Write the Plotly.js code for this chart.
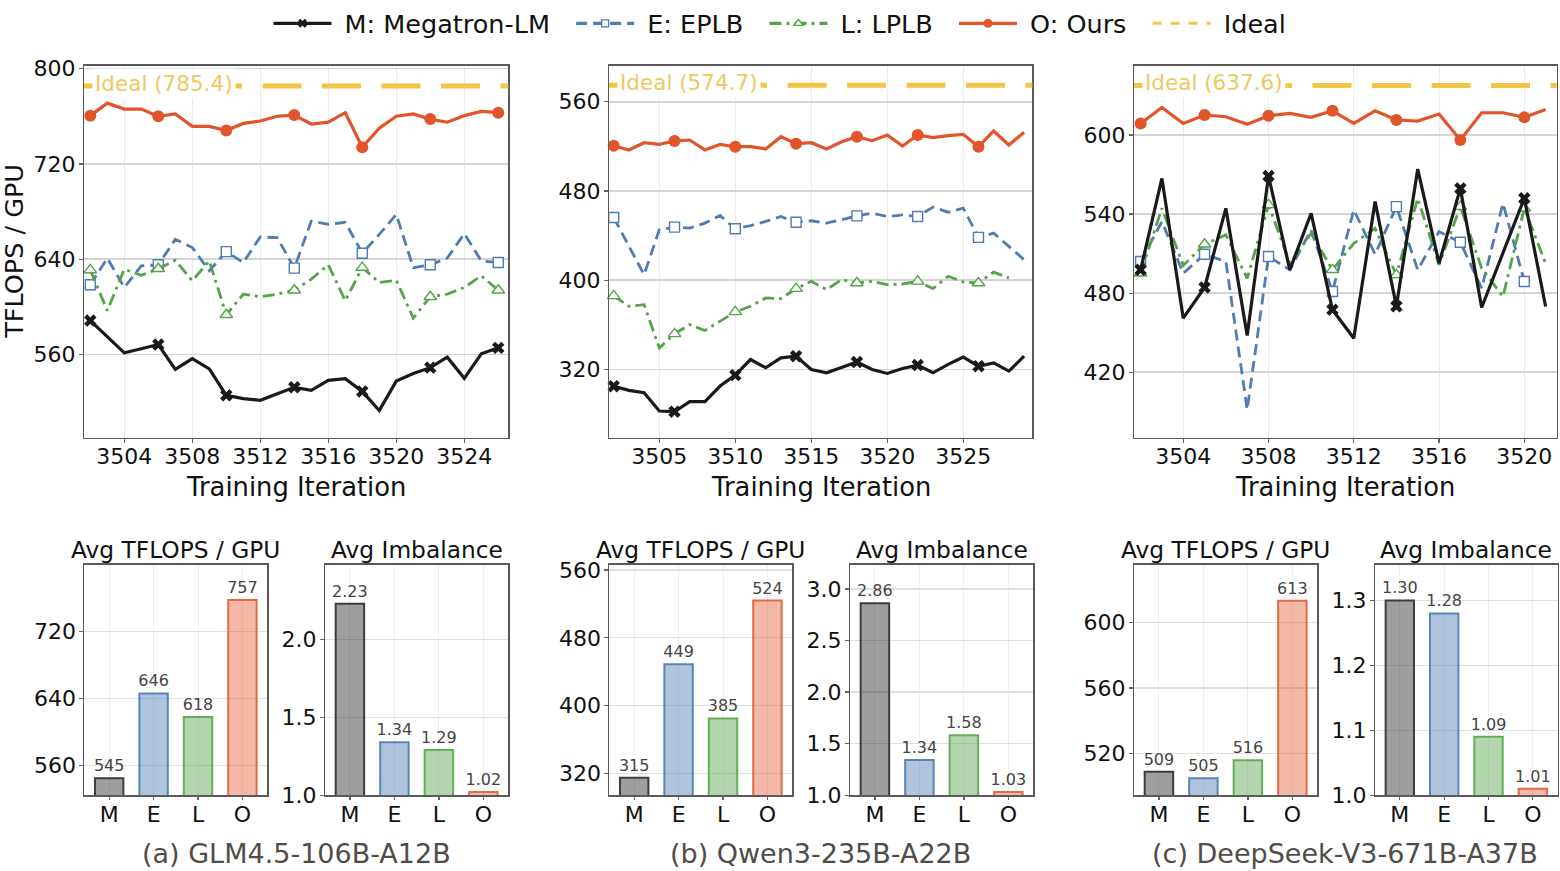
<!DOCTYPE html>
<html>
<head>
<meta charset="utf-8">
<script src="https://cdn.plot.ly/plotly-3.0.1.min.js"></script>
<style>html,body{margin:0;padding:0;background:#fff;}#chart{width:1560px;height:871px;}</style>
</head>
<body>
<div id="chart"></div>
<script>
// ---------------- DATA ----------------
const seriesNames = ['M: Megatron-LM', 'E: EPLB', 'L: LPLB', 'O: Ours', 'Ideal'];

// (a) GLM4.5-106B-A12B
const iterA = [3502,3503,3504,3505,3506,3507,3508,3509,3510,3511,3512,3513,3514,3515,3516,3517,3518,3519,3520,3521,3522,3523,3524,3525,3526];
const megA  = [588.5,575,561.4,564.8,568.4,547.5,556.5,548,525.8,523,521.6,527,532.5,530,538.3,539.7,529,513,537.7,544,549,557.8,540,560.6,565.6];
const eplbA = [618.6,640.9,616.3,634.5,635.3,656.7,649.8,630.3,646.4,637.2,658.7,658.1,632.5,672,669.3,671,645,660.8,677.6,633,635.3,640.9,661.5,638.6,637.2];
const lplbA = [631,596.8,631.6,626.5,632,639.2,621.9,638.6,593.4,610.7,608.5,610.7,614,623.3,635.3,605.2,633,620.5,622.4,590.6,608.5,610.7,616.3,626.1,614];
const oursA = [760.5,771,766,766,760,762,751.5,751.5,748,754,756,760,761,753.5,755,763,734,750,760,762,757.6,755,760.5,764,763];
const idealA = 785.4;

// (b) Qwen3-235B-A22B
const iterB = [3502,3503,3504,3505,3506,3507,3508,3509,3510,3511,3512,3513,3514,3515,3516,3517,3518,3519,3520,3521,3522,3523,3524,3525,3526,3527,3528,3529];
const megB  = [305,301.2,299.1,282.7,282.1,291.1,291.1,305.1,314.9,328.9,321.5,330.4,331.9,320,317,321.5,326.6,320,316.4,320.9,323.9,317,324.5,331,322.9,325.9,318.5,331.9];
const eplbB = [456.2,430.3,405,445.2,447.6,446.7,451.2,458,446.1,449,452.7,457.1,452,453.3,451.2,454.2,457.7,460.1,457.1,458.6,457.1,465.5,461,464.6,438.4,442.2,430.3,418.4];
const lplbB = [386,376.6,378.1,339.3,351.9,360.2,354.9,363.2,371.6,376.6,384.1,383.5,392.5,399,391.6,400.5,397.5,399,396,396.6,399,392.5,403.5,398.4,397.5,407.3,402];
const oursB = [520.6,516.8,523.3,521.8,524.8,525.7,516.8,521.8,519.7,519.7,517.7,528.7,522.4,523.3,517.7,524.2,528.7,525.1,530.2,520.4,530.2,527.8,529.6,530.8,519.7,533.8,521.2,532.6];
const idealB = 574.7;

// (c) DeepSeek-V3-671B-A37B
const iterC = [3502,3503,3504,3505,3506,3507,3508,3509,3510,3511,3512,3513,3514,3515,3516,3517,3518,3519,3520,3521];
const megC  = [497.7,567.1,461,484.3,544.4,447.9,568.9,497.7,540.6,467.4,445.8,549.5,470,574.2,502.7,559.5,469.1,510.3,552,469.9];
const eplbC = [504,534.3,495.1,509.5,504,391.6,507.8,497.7,528,481.2,543.2,509.5,545.7,497.7,526.7,518.6,483.7,548.2,488.8];
const lplbC = [495.1,544.4,501,517.1,524.2,491.3,547,502.7,525.4,497.7,517.8,529.2,493.9,552,501.5,545.7,498.9,477.4,544.4,502.7];
const oursC = [608.8,620.9,608.8,615.2,613.9,608.1,614.6,616.4,613.4,618.4,608.8,618.4,611.4,610.6,615.9,596.2,616.9,616.9,613.4,619.4];
const idealC = 637.6;

// Bar summaries
const barCats = ['M', 'E', 'L', 'O'];
const tflopsA = [545, 646, 618, 757];
const imbA    = [2.23, 1.34, 1.29, 1.02];
const tflopsB = [315, 449, 385, 524];
const imbB    = [2.86, 1.34, 1.58, 1.03];
const tflopsC = [509, 505, 516, 613];
const imbC    = [1.30, 1.28, 1.09, 1.01];

const captions = ['(a) GLM4.5-106B-A12B', '(b) Qwen3-235B-A22B', '(c) DeepSeek-V3-671B-A37B'];

// ---------------- STYLE ----------------
const W = 1560, H = 871;
const FONT = 'DejaVu Sans, Liberation Sans, sans-serif';
const COL = {M:'#1a1a1a', E:'#4f7db3', L:'#56a34b', O:'#e2552a', I:'#f2c545'};
const STY = {
  M: {line:{color:COL.M, width:3.2}, marker:{symbol:'x', size:11, color:COL.M, line:{width:0}}},
  E: {line:{color:COL.E, width:2.8, dash:'11px,6px'}, marker:{symbol:'square', size:10, color:'white', line:{color:COL.E, width:1.4}}},
  L: {line:{color:COL.L, width:2.8, dash:'12px,5px,3px,5px'}, marker:{symbol:'triangle-up', size:11, color:'white', line:{color:COL.L, width:1.4}}},
  O: {line:{color:COL.O, width:3.2}, marker:{symbol:'circle', size:12, color:COL.O, line:{width:0}}}
};
const barFill = ['rgba(40,40,40,0.45)', 'rgba(79,125,179,0.45)', 'rgba(86,163,75,0.45)', 'rgba(226,85,42,0.42)'];
const barEdge = ['#3d3d3d', '#5a84b8', '#65ad5b', '#e46a48'];

const dx = (a, b) => [a / W, b / W];
const dy = (top, bottom) => [1 - bottom / H, 1 - top / H];
const NB = '\u00a0';

const traces = [];

function seriesTrace(xs, ys, key, xa, ya, every) {
  const s = STY[key];
  const sizes = ys.map((_, i) => (i % every === 0 ? s.marker.size : 0));
  const ops = ys.map((_, i) => (i % every === 0 ? 1 : 0));
  return {
    type: 'scatter', mode: 'lines+markers', x: xs, y: ys, xaxis: xa, yaxis: ya,
    showlegend: false, hoverinfo: 'skip', cliponaxis: false,
    line: Object.assign({}, s.line),
    marker: Object.assign({}, s.marker, {size: sizes, opacity: ops})
  };
}

function panel(xs, meg, eplb, lplb, ours, xa, ya, every) {
  traces.push(seriesTrace(xs.slice(0, eplb.length), eplb, 'E', xa, ya, every));
  traces.push(seriesTrace(xs.slice(0, lplb.length), lplb, 'L', xa, ya, every));
  traces.push(seriesTrace(xs.slice(0, meg.length), meg, 'M', xa, ya, every));
  traces.push(seriesTrace(xs.slice(0, ours.length), ours, 'O', xa, ya, every));
}
panel(iterA, megA, eplbA, lplbA, oursA, 'x', 'y', 4);
panel(iterB, megB, eplbB, lplbB, oursB, 'x2', 'y2', 4);
panel(iterC, megC, eplbC, lplbC, oursC, 'x3', 'y3', 3);

// legend-only entries
['M', 'E', 'L', 'O'].forEach((k, i) => {
  const s = STY[k];
  traces.push({type:'scatter', mode:'lines+markers', x:[null], y:[null], xaxis:'x', yaxis:'y',
    name: NB + seriesNames[i] + NB + NB, showlegend:true, line: Object.assign({}, s.line, {width: 3.2}),
    marker: Object.assign({}, s.marker, {size: s.marker.size - 3})});
});
traces.push({type:'scatter', mode:'lines', x:[null], y:[null], xaxis:'x', yaxis:'y',
  name: NB + seriesNames[4], showlegend:true, line:{color:COL.I, width:3, dash:'dash'}});

function barTrace(vals, xa, ya, fmt) {
  return {type:'bar', x: barCats, y: vals, xaxis: xa, yaxis: ya, width: 0.64,
    marker:{color: barFill, line:{color: barEdge, width: 2}},
    texttemplate: fmt, textposition:'outside', constraintext:'none', cliponaxis:false,
    textfont:{size:16, color:'#444', family: FONT}, showlegend:false, hoverinfo:'skip'};
}
traces.push(barTrace(tflopsA, 'x4', 'y4', '%{y:.0f}'));
traces.push(barTrace(imbA,    'x5', 'y5', '%{y:.2f}'));
traces.push(barTrace(tflopsB, 'x6', 'y6', '%{y:.0f}'));
traces.push(barTrace(imbB,    'x7', 'y7', '%{y:.2f}'));
traces.push(barTrace(tflopsC, 'x8', 'y8', '%{y:.0f}'));
traces.push(barTrace(imbC,    'x9', 'y9', '%{y:.2f}'));

// ---------------- AXES ----------------
const base = {showline:true, mirror:true, linecolor:'#5a5a5a', linewidth:1.5,
  ticks:'outside', ticklen:3.5, tickwidth:1.2, tickcolor:'#666', zeroline:false,
  tickfont:{size:22, color:'#111', family: FONT}, showgrid:true, fixedrange:true};
const topX = (dom, range, tv, anchor) => Object.assign({}, base, {domain: dom, range: range, tickvals: tv, anchor: anchor, gridcolor:'#ebebeb', gridwidth:1, ticklabelstandoff:-5});
const topY = (dom, range, tv, anchor) => Object.assign({}, base, {domain: dom, range: range, tickvals: tv, anchor: anchor, gridcolor:'#d4d4d4', gridwidth:1.5, ticklabelstandoff:-1});
const barX = (dom, anchor) => Object.assign({}, base, {domain: dom, type:'category', range:[-0.56, 3.56], anchor: anchor, gridcolor:'#efefef', gridwidth:1, ticklabelstandoff:-5});
const barY = (dom, range, tv, anchor, fmt) => Object.assign({}, base, {domain: dom, range: range, tickvals: tv, anchor: anchor, tickformat: fmt, gridcolor:'#e0e0e0', gridwidth:1.2, ticklabelstandoff:-1});

const topDom = dy(64, 436.7);
const botDom = dy(564, 795);

const layout = {
  width: W, height: H, margin:{l:0, r:0, t:0, b:0},
  paper_bgcolor:'#fff', plot_bgcolor:'#fff',
  font:{family: FONT, color:'#111'},
  showlegend: true,
  legend:{orientation:'h', x:0.5, xanchor:'center', y:1.002, yanchor:'top',
    font:{size:25.5, color:'#111', family: FONT}, bgcolor:'rgba(0,0,0,0)', itemwidth:58, traceorder:'normal'},
  xaxis:  topX(dx(84, 508.3),   [3501.63, 3526.59], [3504,3508,3512,3516,3520,3524], 'y'),
  yaxis:  topY(topDom, [490.2, 802.3], [560,640,720,800], 'x'),
  xaxis2: topX(dx(609, 1032.3), [3501.69, 3529.54], [3505,3510,3515,3520,3525], 'y2'),
  yaxis2: topY(topDom, [258.8, 592.2], [320,400,480,560], 'x2'),
  xaxis3: topX(dx(1134, 1556.7), [3501.69, 3521.52], [3504,3508,3512,3516,3520], 'y3'),
  yaxis3: topY(topDom, [370.3, 652.5], [420,480,540,600], 'x3'),
  xaxis4: barX(dx(84.3, 267.3), 'y4'),
  yaxis4: barY(botDom, [525, 799], [560,640,720], 'x4', 'd'),
  xaxis5: barX(dx(325, 508.3), 'y5'),
  yaxis5: barY(botDom, [1.0, 2.48], [1.0,1.5,2.0], 'x5', '.1f'),
  xaxis6: barX(dx(609.3, 792.3), 'y6'),
  yaxis6: barY(botDom, [294.5, 566.3], [320,400,480,560], 'x6', 'd'),
  xaxis7: barX(dx(850, 1033.3), 'y7'),
  yaxis7: barY(botDom, [1.0, 3.235], [1.0,1.5,2.0,2.5,3.0], 'x7', '.1f'),
  xaxis8: barX(dx(1134, 1317.3), 'y8'),
  yaxis8: barY(botDom, [494.7, 635], [520,560,600], 'x8', 'd'),
  xaxis9: barX(dx(1375, 1557.7), 'y9'),
  yaxis9: barY(botDom, [1.0, 1.355], [1.0,1.1,1.2,1.3], 'x9', '.1f'),
  shapes: [], annotations: []
};

// Ideal lines + labels
[[idealA, 'x', 'y'], [idealB, 'x2', 'y2'], [idealC, 'x3', 'y3']].forEach(([v, xa, ya]) => {
  layout.shapes.push({type:'line', xref: xa + ' domain', yref: ya, x0:0, x1:1, y0:v, y1:v,
    line:{color:COL.I, width:5, dash:'39px,20.5px'}});
  layout.annotations.push({xref: xa + ' domain', yref: ya, x:0.019, y:v, xanchor:'left', yanchor:'middle', yshift:2.5,
    text: 'Ideal (' + v.toFixed(1) + ')', showarrow:false, bgcolor:'#ffffff', borderpad:2,
    font:{size:21.5, color:'#f0c862', family: FONT}});
});

const centers = [(84 + 508.3) / 2, (609 + 1032.3) / 2, (1134 + 1556.7) / 2];
centers.forEach((c, i) => {
  layout.annotations.push({xref:'paper', yref:'paper', x: c / W, y: 1 - 486 / H, xanchor:'center', yanchor:'middle',
    text:'Training Iteration', showarrow:false, font:{size:25.8, color:'#111', family: FONT}});
  layout.annotations.push({xref:'paper', yref:'paper', x: c / W, y: 1 - 853 / H, xanchor:'center', yanchor:'middle',
    text: captions[i], showarrow:false, font:{size:27, color:'#504d48', family: FONT}});
});
layout.annotations.push({xref:'paper', yref:'paper', x: 14 / W, y: 1 - 250.4 / H, xanchor:'center', yanchor:'middle',
  text:'TFLOPS / GPU', textangle:-90, showarrow:false, font:{size:25.5, color:'#111', family: FONT}});

[[(84.3 + 267.3) / 2, 'Avg TFLOPS / GPU'], [(325 + 508.3) / 2, 'Avg Imbalance'],
 [(609.3 + 792.3) / 2, 'Avg TFLOPS / GPU'], [(850 + 1033.3) / 2, 'Avg Imbalance'],
 [(1134 + 1317.3) / 2, 'Avg TFLOPS / GPU'], [(1375 + 1557.7) / 2, 'Avg Imbalance']].forEach(([c, t]) => {
  layout.annotations.push({xref:'paper', yref:'paper', x: c / W, y: 1 - 549 / H, xanchor:'center', yanchor:'middle',
    text: t, showarrow:false, font:{size:23.3, color:'#111', family: FONT}});
});

Plotly.newPlot('chart', traces, layout, {displayModeBar:false, staticPlot:true});
</script>
</body>
</html>
